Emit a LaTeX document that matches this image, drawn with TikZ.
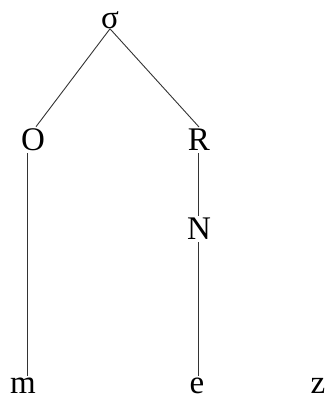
\documentclass[tikz,border=0pt]{standalone}
\usepackage{fontspec}
\setmainfont{Liberation Serif}
\begin{document}
\begin{tikzpicture}[x=1pt,y=1pt,
  lab/.style={inner sep=2pt,font=\fontsize{33}{36}\selectfont},
  leaf/.style={lab,inner sep=0pt,anchor=base},
  edge/.style={draw=black!80,line width=0.9pt}]
\useasboundingbox (0,0) rectangle (329,400);
\node[lab,inner sep=0pt] (s) at (110,380) {σ};
\node[lab] (O) at (33,260) {O};
\node[lab] (R) at (199,260) {R};
\node[lab] (N) at (199,171) {N};
\node[leaf] (m) at (23,6) {m};
\node[leaf] (e) at (197,6) {e};
\node[leaf] (z) at (318,6) {z};
\coordinate (mt) at ([xshift=4pt,yshift=2pt]m.north);
\coordinate (et) at ([yshift=2pt]e.north);
\draw[edge] (s.south) -- ([xshift=3pt]O.north);
\draw[edge] (s.south) -- (R.north);
\draw[edge] ([xshift=-6pt]O.south) -- ([xshift=-6pt]O.south |- mt);
\draw[edge] ([xshift=-1pt]R.south) -- ([xshift=-1pt]N.north);
\draw[edge] ([xshift=-1pt]N.south) -- ([xshift=-1pt]N.south |- et);
\end{tikzpicture}
\end{document}
